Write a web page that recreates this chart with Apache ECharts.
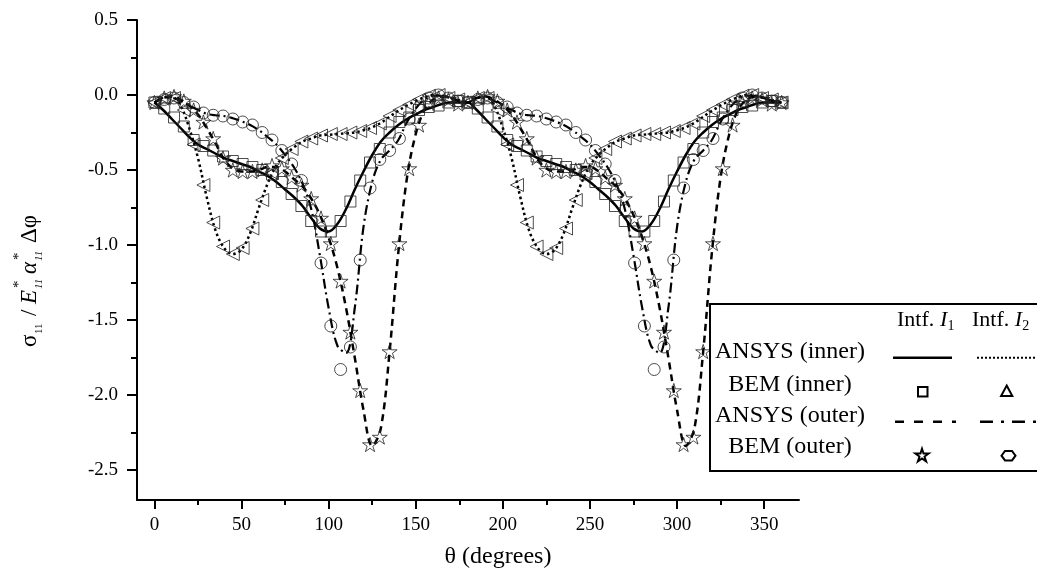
<!DOCTYPE html>
<html>
<head>
<meta charset="utf-8">
<script src="https://cdn.jsdelivr.net/npm/echarts@6/dist/echarts.min.js"></script>
<style>
html,body{margin:0;padding:0;background:#fff;}
#chart{width:1037px;height:572px;}
</style>
</head>
<body>
<div id="chart"></div>
<script>
// ---- data ----
const xTicks = [0, 50, 100, 150, 200, 250, 300, 350];
const xMinorTicks = [25, 75, 125, 175, 225, 275, 325];
const yTicks = [0.5, 0.0, -0.5, -1.0, -1.5, -2.0, -2.5];
const yMinorTicks = [0.25, -0.25, -0.75, -1.25, -1.75, -2.25];

// ANSYS curves sampled every 5 degrees
const lineTheta = [0,5,10,15,20,25,30,35,40,45,50,55,60,65,70,75,80,85,90,95,100,105,110,115,120,125,130,135,140,145,150,155,160,165,170,175,180,
185,190,195,200,205,210,215,220,225,230,235,240,245,250,255,260,265,270,275,280,285,290,295,300,305,310,315,320,325,330,335,340,345,350,355,360];

const ansysInnerI1 = [-0.05,-0.10,-0.16,-0.22,-0.28,-0.33,-0.36,-0.39,-0.42,-0.44,-0.46,-0.48,-0.51,-0.54,-0.58,-0.63,-0.68,-0.74,-0.82,-0.89,-0.91,-0.86,-0.76,-0.63,-0.51,-0.40,-0.31,-0.25,-0.20,-0.16,-0.13,-0.10,-0.08,-0.06,-0.05,-0.05,-0.05,
-0.10,-0.16,-0.22,-0.28,-0.33,-0.36,-0.39,-0.42,-0.44,-0.46,-0.48,-0.51,-0.54,-0.58,-0.63,-0.68,-0.74,-0.82,-0.89,-0.91,-0.86,-0.76,-0.63,-0.51,-0.40,-0.31,-0.25,-0.20,-0.16,-0.13,-0.10,-0.08,-0.06,-0.05,-0.05,-0.05];

const ansysInnerI2 = [-0.05,-0.02,-0.01,-0.07,-0.22,-0.42,-0.68,-0.90,-1.02,-1.06,-1.03,-0.92,-0.75,-0.59,-0.47,-0.40,-0.35,-0.31,-0.29,-0.27,-0.265,-0.26,-0.255,-0.25,-0.235,-0.215,-0.185,-0.145,-0.105,-0.07,-0.04,-0.015,0.0,-0.005,-0.02,-0.035,-0.05,
-0.02,-0.01,-0.07,-0.22,-0.42,-0.68,-0.90,-1.02,-1.06,-1.03,-0.92,-0.75,-0.59,-0.47,-0.40,-0.35,-0.31,-0.29,-0.27,-0.265,-0.26,-0.255,-0.25,-0.235,-0.215,-0.185,-0.145,-0.105,-0.07,-0.04,-0.015,0.0,-0.005,-0.02,-0.035,-0.05];

const ansysOuterI1 = [-0.05,-0.02,-0.01,-0.03,-0.07,-0.13,-0.22,-0.32,-0.43,-0.49,-0.51,-0.51,-0.50,-0.48,-0.48,-0.51,-0.56,-0.61,-0.69,-0.80,-0.95,-1.15,-1.42,-1.75,-2.10,-2.34,-2.22,-1.71,-1.05,-0.55,-0.26,-0.10,-0.03,-0.01,-0.02,-0.04,-0.05,
-0.02,-0.01,-0.03,-0.07,-0.13,-0.22,-0.32,-0.43,-0.49,-0.51,-0.51,-0.50,-0.48,-0.48,-0.51,-0.56,-0.61,-0.69,-0.80,-0.95,-1.15,-1.42,-1.75,-2.10,-2.34,-2.22,-1.71,-1.05,-0.55,-0.26,-0.10,-0.03,-0.01,-0.02,-0.04,-0.05];

const ansysOuterI2 = [-0.05,-0.02,-0.02,-0.04,-0.07,-0.10,-0.125,-0.135,-0.14,-0.155,-0.175,-0.20,-0.235,-0.28,-0.33,-0.40,-0.48,-0.59,-0.76,-1.07,-1.42,-1.67,-1.72,-1.42,-0.88,-0.58,-0.43,-0.37,-0.30,-0.18,-0.09,-0.03,-0.005,-0.005,-0.02,-0.04,-0.05,
-0.02,-0.02,-0.04,-0.07,-0.10,-0.125,-0.135,-0.14,-0.155,-0.175,-0.20,-0.235,-0.28,-0.33,-0.40,-0.48,-0.59,-0.76,-1.07,-1.42,-1.67,-1.72,-1.42,-0.88,-0.58,-0.43,-0.37,-0.30,-0.18,-0.09,-0.03,-0.005,-0.005,-0.02,-0.04,-0.05];

// BEM nodes
const bemTheta = [0,5.625,11.25,16.875,22.5,28.125,33.75,39.375,45,50.625,56.25,61.875,67.5,73.125,78.75,84.375,90,95.625,101.25,106.875,112.5,118.125,123.75,129.375,135,140.625,146.25,151.875,157.5,163.125,168.75,174.375,180,
185.625,191.25,196.875,202.5,208.125,213.75,219.375,225,230.625,236.25,241.875,247.5,253.125,258.75,264.375,270,275.625,281.25,286.875,292.5,298.125,303.75,309.375,315,320.625,326.25,331.875,337.5,343.125,348.75,354.375,360];

const bemInnerI1 = [-0.05,-0.09,-0.15,-0.21,-0.30,-0.34,-0.37,-0.41,-0.44,-0.46,-0.48,-0.50,-0.53,-0.58,-0.66,-0.74,-0.84,-0.91,-0.91,-0.84,-0.71,-0.57,-0.45,-0.36,-0.25,-0.18,-0.15,-0.10,-0.08,-0.07,-0.05,-0.04,-0.05,
-0.09,-0.15,-0.21,-0.30,-0.34,-0.37,-0.41,-0.44,-0.46,-0.48,-0.50,-0.53,-0.58,-0.66,-0.74,-0.84,-0.91,-0.91,-0.84,-0.71,-0.57,-0.45,-0.36,-0.25,-0.18,-0.15,-0.10,-0.08,-0.07,-0.05,-0.04,-0.05];

const bemInnerI2 = [-0.05,-0.02,-0.02,-0.10,-0.33,-0.60,-0.85,-1.01,-1.06,-1.02,-0.89,-0.70,-0.52,-0.42,-0.36,-0.31,-0.29,-0.27,-0.26,-0.26,-0.25,-0.24,-0.22,-0.19,-0.14,-0.10,-0.065,-0.03,-0.005,0.0,-0.02,-0.03,-0.05,
-0.02,-0.02,-0.10,-0.33,-0.60,-0.85,-1.01,-1.06,-1.02,-0.89,-0.70,-0.52,-0.42,-0.36,-0.31,-0.29,-0.27,-0.26,-0.26,-0.25,-0.24,-0.22,-0.19,-0.14,-0.10,-0.065,-0.03,-0.005,0.0,-0.02,-0.03,-0.05];

const bemOuterI1 = [-0.05,-0.02,-0.01,-0.04,-0.10,-0.18,-0.29,-0.42,-0.50,-0.51,-0.51,-0.50,-0.47,-0.49,-0.55,-0.60,-0.69,-0.82,-0.99,-1.24,-1.58,-1.97,-2.33,-2.28,-1.71,-0.99,-0.49,-0.20,-0.05,-0.02,-0.03,-0.06,-0.05,
-0.02,-0.01,-0.04,-0.10,-0.18,-0.29,-0.42,-0.50,-0.51,-0.51,-0.50,-0.47,-0.49,-0.55,-0.60,-0.69,-0.82,-0.99,-1.24,-1.58,-1.97,-2.33,-2.28,-1.71,-0.99,-0.49,-0.20,-0.05,-0.02,-0.03,-0.06,-0.05];

const bemOuterI2 = [-0.05,-0.03,-0.02,-0.05,-0.08,-0.12,-0.135,-0.14,-0.16,-0.18,-0.20,-0.25,-0.30,-0.37,-0.46,-0.57,-0.77,-1.12,-1.54,-1.83,-1.68,-1.10,-0.62,-0.43,-0.37,-0.29,-0.16,-0.08,-0.02,0.0,-0.02,-0.04,-0.05,
-0.03,-0.02,-0.05,-0.08,-0.12,-0.135,-0.14,-0.16,-0.18,-0.20,-0.25,-0.30,-0.37,-0.46,-0.57,-0.77,-1.12,-1.54,-1.83,-1.68,-1.10,-0.62,-0.43,-0.37,-0.29,-0.16,-0.08,-0.02,0.0,-0.02,-0.04,-0.05];

const rowLabels = ['ANSYS (inner)', 'BEM (inner)', 'ANSYS (outer)', 'BEM (outer)'];
const xTitle = 'θ (degrees)';

// ---- chart ----
const FONT = "'Liberation Serif','Times New Roman',serif";
const STAR = 'path://M50,0L61.23,34.55L97.55,34.55L68.17,55.9L79.39,90.45L50,69.1L20.61,90.45L31.83,55.9L2.45,34.55L38.77,34.55Z';
const zip = (xs, ys) => xs.map((x, i) => [x, ys[i]]);
const hollow = {color: 'rgba(0,0,0,0)', borderColor: '#222', borderWidth: 1};

function lineSeries(vals, dash, width) {
  return {type: 'line', data: zip(lineTheta, vals), smooth: 0.35, showSymbol: false, symbol: 'none',
    lineStyle: {color: '#000', width: width, type: dash, cap: 'butt'}, z: 2, silent: true, animation: false};
}
function markSeries(vals, symbol, size, rotate) {
  return {type: 'scatter', data: zip(bemTheta, vals), symbol: symbol, symbolSize: size, symbolRotate: rotate || 0,
    symbolKeepAspect: true, itemStyle: hollow, z: 3, silent: true, animation: false};
}

const chart = echarts.init(document.getElementById('chart'), null, {renderer: 'canvas'});

function t(text, x, y, size, opts) {
  opts = opts || {};
  return {type: 'text', x: x, y: y, z: 20,
    style: {text: text, font: (opts.italic ? 'italic ' : '') + size + 'px ' + FONT, fill: '#000',
      textAlign: opts.align || 'left', textVerticalAlign: 'middle'}};
}

// y-axis title pieces (local coordinates, rotated group)
const yTitle = {
  type: 'group', x: 38, y: 347, rotation: Math.PI / 2, z: 20,
  children: [
    t('σ', 0, -8, 23),
    t('11', 13, 1.5, 11),
    t('/', 31, -8, 23),
    t('E', 43, -8, 23, {italic: true}),
    t('*', 59, -19, 15),
    t('11', 58, 1.5, 11, {italic: true}),
    t('α', 73, -8, 23, {italic: true}),
    t('*', 87, -19, 15),
    t('11', 86, 1.5, 11, {italic: true}),
    t('Δφ', 104, -8, 23)
  ]
};

const legendGraphics = [
  {type: 'rect', z: 15, shape: {x: 710, y: 304, width: 340, height: 167}, style: {fill: '#fff', stroke: '#000', lineWidth: 2}},
  t('Intf. ', 897, 320, 22), t('I', 940, 320, 22, {italic: true}), t('1', 947.5, 326, 14),
  t('Intf. ', 972, 320, 22), t('I', 1014.8, 320, 22, {italic: true}), t('2', 1022.3, 326, 14),
  t(rowLabels[0], 790, 352, 24, {align: 'center'}),
  t(rowLabels[1], 790, 385, 24, {align: 'center'}),
  t(rowLabels[2], 790, 416, 24, {align: 'center'}),
  t(rowLabels[3], 790, 447, 24, {align: 'center'}),
  {type: 'line', z: 20, shape: {x1: 893, y1: 357.7, x2: 952, y2: 357.7}, style: {stroke: '#000', lineWidth: 2.5}},
  {type: 'line', z: 20, shape: {x1: 977, y1: 357.7, x2: 1040, y2: 357.7}, style: {stroke: '#000', lineWidth: 2, lineDash: [2, 2]}},
  {type: 'rect', z: 20, shape: {x: 918, y: 387, width: 9.5, height: 9.5}, style: {fill: 'none', stroke: '#000', lineWidth: 2}},
  {type: 'polygon', z: 20, shape: {points: [[1006.7, 385.5], [1012.3, 396], [1001.1, 396]]}, style: {fill: 'none', stroke: '#000', lineWidth: 2}},
  {type: 'line', z: 20, shape: {x1: 895, y1: 421.7, x2: 956, y2: 421.7}, style: {stroke: '#000', lineWidth: 2.5, lineDash: [9, 10]}},
  {type: 'line', z: 20, shape: {x1: 980, y1: 421.7, x2: 1040, y2: 421.7}, style: {stroke: '#000', lineWidth: 2.5, lineDash: [13, 8, 3, 8]}},
  {type: 'polygon', z: 20, shape: {points: [[922, 448.7], [923.57, 453.54], [928.66, 453.54], [924.54, 456.53], [926.11, 461.36], [922, 458.37], [917.89, 461.36], [919.46, 456.53], [915.34, 453.54], [920.43, 453.54]]},
    style: {fill: 'none', stroke: '#000', lineWidth: 2}},
  {type: 'polygon', z: 20, shape: {points: [[1005, 451], [1012, 451], [1015.5, 455.7], [1012, 460.4], [1005, 460.4], [1001.5, 455.7]]}, style: {fill: 'none', stroke: '#000', lineWidth: 2}}
];

const axisFont = {fontFamily: FONT, fontSize: 19, color: '#000'};

function tickAxis(min, max, pos, vals, len) {
  return {type: 'value', min: min, max: max, position: pos, offset: 0,
    axisLine: {show: false, onZero: false},
    axisTick: {show: true, length: len, inside: false, customValues: vals, lineStyle: {color: '#000', width: 2}},
    axisLabel: {show: false}, splitLine: {show: false}};
}

const option = {
  animation: false,
  backgroundColor: '#fff',
  grid: {left: 137, right: 238, top: 20, bottom: 72, containLabel: false},
  xAxis: [
    {type: 'value', min: -10, max: 370, position: 'bottom', offset: 0,
      axisLine: {show: true, onZero: false, lineStyle: {color: '#000', width: 2}},
      axisTick: {show: false},
      axisLabel: Object.assign({show: true, margin: 16, customValues: xTicks, formatter: v => String(v)}, axisFont),
      splitLine: {show: false}},
    tickAxis(-10, 370, 'bottom', xTicks, 9),
    tickAxis(-10, 370, 'bottom', xMinorTicks, 5)
  ],
  yAxis: [
    {type: 'value', min: -2.7, max: 0.5, position: 'left', offset: 0,
      axisLine: {show: true, onZero: false, lineStyle: {color: '#000', width: 2}},
      axisTick: {show: false},
      axisLabel: Object.assign({show: true, margin: 19, customValues: yTicks, formatter: v => Number(v).toFixed(1)}, axisFont),
      splitLine: {show: false}},
    tickAxis(-2.7, 0.5, 'left', yTicks, 10),
    tickAxis(-2.7, 0.5, 'left', yMinorTicks, 6)
  ],
  series: [
    lineSeries(ansysInnerI1, 'solid', 2.5),
    lineSeries(ansysInnerI2, [2.5, 3], 2.5),
    lineSeries(ansysOuterI1, [7, 5], 2.5),
    lineSeries(ansysOuterI2, [10, 4, 2, 4], 2.2),
    markSeries(bemInnerI1, 'rect', 11),
    markSeries(bemInnerI2, 'triangle', 13, 90),
    markSeries(bemOuterI1, STAR, 15),
    markSeries(bemOuterI2, 'circle', 12)
  ],
  graphic: [
    yTitle,
    {type: 'text', x: 498, y: 557, z: 20, style: {text: xTitle, font: '24px ' + FONT, fill: '#000', textAlign: 'center', textVerticalAlign: 'middle'}}
  ].concat(legendGraphics)
};

chart.setOption(option);
</script>
</body>
</html>
